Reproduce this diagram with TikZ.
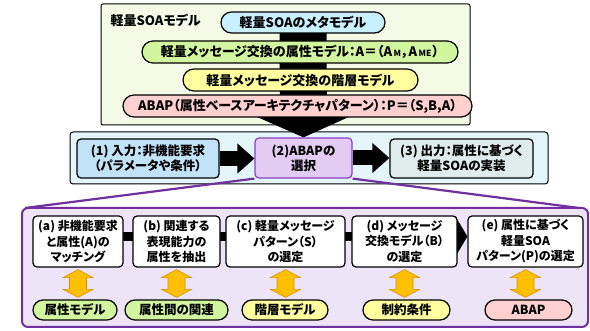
\documentclass[tikz,border=0pt]{standalone}
\usepackage{fontspec}
\setmainfont{Noto Sans CJK JP}[RawFeature=+palt]
\usetikzlibrary{shapes.misc,arrows.meta,calc}
\pgfdeclarelayer{back}\pgfdeclarelayer{mid}\pgfsetlayers{back,mid,main}
\definecolor{topfill}{HTML}{F4FAE6}
\definecolor{cyanpill}{HTML}{C8F0FF}
\definecolor{greenpill}{HTML}{D2F5A0}
\definecolor{yellowpill}{HTML}{FFFFA0}
\definecolor{pinkpill}{HTML}{FFD0D0}
\definecolor{bandfill}{HTML}{E4F6FA}
\definecolor{infill}{HTML}{C2E2F8}
\definecolor{selfill}{HTML}{E2CCF4}
\definecolor{selline}{HTML}{8A40C0}
\definecolor{outfill}{HTML}{E0ECEC}
\definecolor{purpfill}{HTML}{EEE4F8}
\definecolor{purp}{HTML}{7030A0}
\definecolor{orangeA}{HTML}{FFC000}
\definecolor{orangeB}{HTML}{D89000}
\newcommand\oarrow[2]{\path[oarr] let \p1=($(#1.south)+(0,2)$), \p2=($(#2.north)+(0,-2)$) in
  (\x1,\y1) -- (\x1+15pt,\y1-8pt) -- (\x1+8.5pt,\y1-8pt) -- (\x1+8.5pt,\y2+8pt) -- (\x1+15pt,\y2+8pt)
  -- (\x1,\y2) -- (\x1-15pt,\y2+8pt) -- (\x1-8.5pt,\y2+8pt) -- (\x1-8.5pt,\y1-8pt) -- (\x1-15pt,\y1-8pt) -- cycle;}
\newcommand\smallsub[1]{\kern1.5pt{\fontsize{8.5}{8.5}\selectfont #1}\kern1pt}
\begin{document}
\begin{tikzpicture}[x=1pt,y=-1pt,
  font=\bfseries\fontsize{12.5}{15}\selectfont,
  pill/.style={rounded rectangle, draw=black, line width=1.2pt, inner sep=0pt},
  toppill/.style={pill, font=\bfseries\fontsize{13}{15}\selectfont},
  botpill/.style={pill, minimum height=20, font=\bfseries\fontsize{12.5}{15}\selectfont},
  box/.style={rectangle, rounded corners=4pt, draw=black, line width=1.2pt, inner sep=0pt, align=center},
  stepbox/.style={box, fill=white, minimum height=51, font=\bfseries\fontsize{12}{15.5}\selectfont},
  flow/.style={line width=15pt, -{Triangle[width=29pt,length=17pt]}},
  stepflow/.style={line width=9pt, -{Triangle[width=40pt,length=12pt]}},
  oarr/.style={fill=orangeA, draw=orangeB, line width=0.6pt},
  purpleline/.style={draw=purp, line width=2.2pt}]
\useasboundingbox (0,0) rectangle (590,331);
% containers
\begin{pgfonlayer}{back}
\node[box, rounded corners=2pt, line width=1pt, fill=topfill, minimum width=369, minimum height=121] (soa) at (285.5,64.5) {};
\node[box, rounded corners=3pt, line width=1pt, fill=bandfill, minimum width=478, minimum height=52] (band) at (309,158) {};
\node[box, rounded corners=6pt, draw=purp, line width=2pt, fill=purpfill, minimum width=566, minimum height=119] (big) at (305,267.5) {};
\end{pgfonlayer}
\node[anchor=west, font=\bfseries\fontsize{13}{15}\selectfont] (title) at (107,20) {軽量SOAモデル};
% top pills
\node[toppill, fill=cyanpill, minimum width=164, minimum height=21] (p1) at (303,22.5) {軽量SOAのメタモデル};
\node[toppill, fill=greenpill, minimum width=316, minimum height=22] (p2) at (300,52) {軽量メッセージ交換の属性モデル：A＝（A\smallsub{M}，A\smallsub{ME}）};
\node[toppill, fill=yellowpill, minimum width=235, minimum height=22] (p3) at (300.5,80) {軽量メッセージ交換の階層モデル};
\node[toppill, fill=pinkpill, minimum width=349, minimum height=22] (p4) at (297.5,106) {ABAP（属性ベースアーキテクチャパターン）：P＝（S,B,A）};
% band boxes
\node[box, fill=infill, minimum width=142, minimum height=39] (n1) at (148,158.5) {(1) 入力：非機能要求\\（パラメータや条件）};
\node[box, fill=selfill, draw=selline, minimum width=97, minimum height=40] (n2) at (303.5,158) {(2)ABAPの\\選択};
\node[box, fill=outfill, minimum width=143, minimum height=39] (n3) at (461.5,158.5) {(3) 出力：属性に基づく\\軽量SOAの実装};
% steps
\node[stepbox, minimum width=90] (sa) at (78,241.5) {(a) 非機能要求\\と属性(A)の\\マッチング};
\node[stepbox, minimum width=87] (sb) at (176.5,241.5) {(b) 関連する\\表現能力の\\属性を抽出};
\node[stepbox, minimum width=119] (sc) at (285.5,241.5) {(c) 軽量メッセージ\\パターン（S）\\の選定};
\node[stepbox, minimum width=105] (sd) at (404.5,241.5) {(d) メッセージ\\交換モデル（B）\\の選定};
\node[stepbox, minimum width=115] (se) at (525.5,241.5) {(e) 属性に基づく\\軽量SOA\\パターン(P)の選定};
% bottom pills
\node[botpill, fill=greenpill, minimum width=84] (qa) at (75,310) {属性モデル};
\node[botpill, fill=greenpill, minimum width=103] (qb) at (176.5,310) {属性間の関連};
\node[botpill, fill=yellowpill, minimum width=86] (qc) at (285,310) {階層モデル};
\node[botpill, fill=yellowpill, minimum width=87] (qd) at (406.5,310) {制約条件};
\node[botpill, fill=pinkpill, minimum width=87] (qe) at (528.5,310) {ABAP};
% connectors
\begin{pgfonlayer}{mid}
\draw[line width=47pt, -{Triangle[width=98pt,length=22pt]}] (p1.center) -- (n2.north);
\draw[flow] (n1.east) -- (n1.east -| n2.west);
\draw[flow] (n2.east) -- (n2.east -| n3.west);
\draw[purpleline] (n2.south west) -- ($(big.north west)+(4,1)$);
\draw[purpleline] (n2.south east) -- ($(big.north east)+(-10,1)$);
\draw[stepflow] ($(sa.center)+(0,-5)$) -- ($(sb.west)+(16,-5)$);
\draw[stepflow] ($(sb.center)+(0,-5)$) -- ($(sc.west)+(16,-5)$);
\draw[stepflow] ($(sc.center)+(0,-5)$) -- ($(sd.west)+(16,-5)$);
\draw[stepflow] ($(sd.center)+(0,-5)$) -- ($(se.west)+(0,-5)$);
\end{pgfonlayer}
\oarrow{sa}{qa}
\oarrow{sb}{qb}
\oarrow{sc}{qc}
\oarrow{sd}{qd}
\oarrow{se}{qe}
\end{tikzpicture}
\end{document}
